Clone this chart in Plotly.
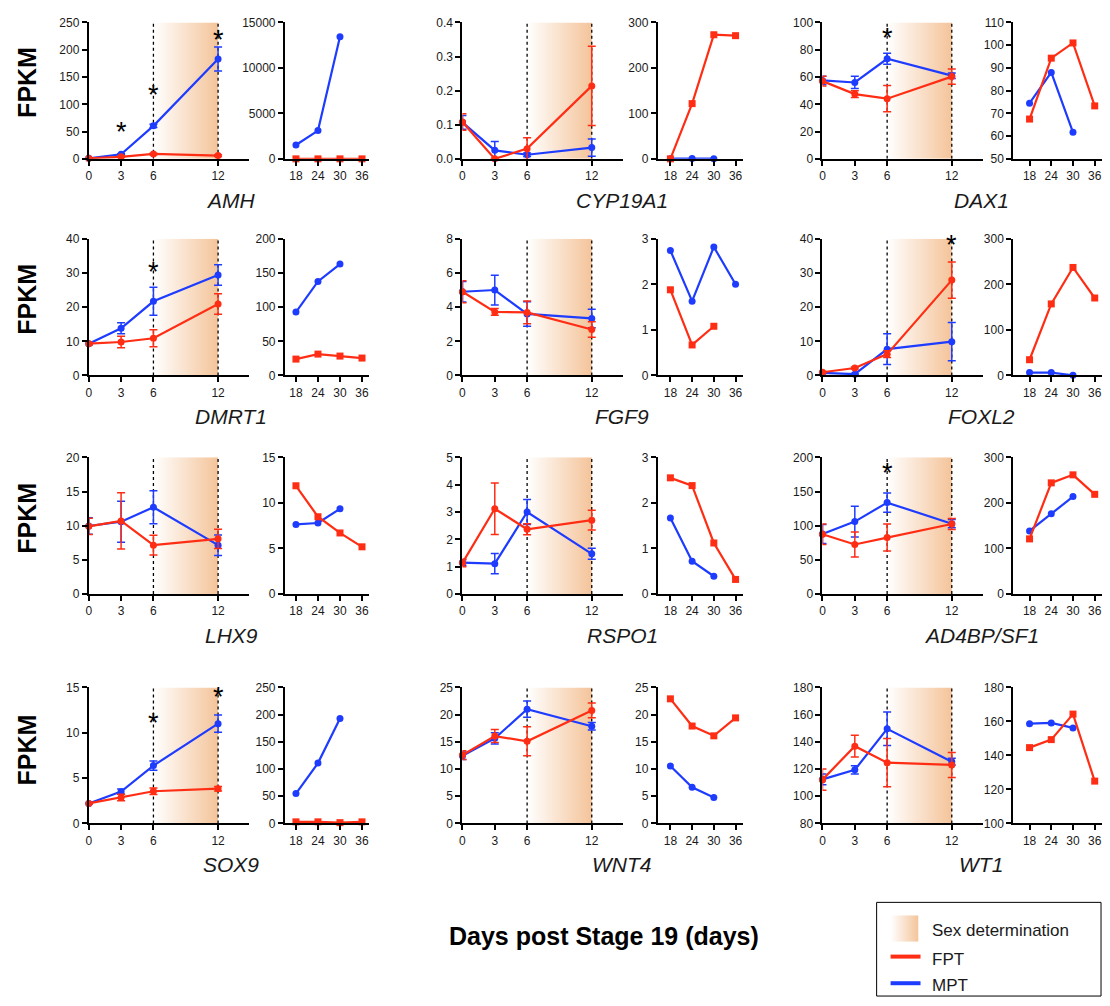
import plotly.graph_objects as go

W, H = 1110, 1006
RED = "#FF2D14"
BLUE = "#1E3CFF"
PEACH = "#F4C49A"
FONT = "Liberation Sans, Arial, sans-serif"

DAYS_EARLY = [0, 3, 6, 12]
DAYS_LATE = [18, 24, 30, 36]

GENES = ["AMH", "CYP19A1", "DAX1", "DMRT1", "FGF9", "FOXL2",
         "LHX9", "RSPO1", "AD4BP/SF1", "SOX9", "WNT4", "WT1"]

# ---- data (FPKM) ----
AMH_MPT = [1.0, 8.4, 60.5, 183.0]
AMH_MPT_SD = [0.5, 1.0, 3.0, 22.0]
AMH_FPT = [1.0, 3.8, 9.0, 6.0]
AMH_FPT_SD = [0.3, 0.8, 1.5, 1.5]
AMH_MPT_LATE = [1520, 3110, 13440, None]
AMH_FPT_LATE = [0, 0, 0, 0]

CYP_MPT = [0.107, 0.025, 0.012, 0.033]
CYP_MPT_SD = [0.02, 0.026, 0.005, 0.025]
CYP_FPT = [0.108, 0.0, 0.03, 0.214]
CYP_FPT_SD = [0.024, 0.002, 0.032, 0.116]
CYP_MPT_LATE = [0.5, 1.0, 0.3, None]
CYP_FPT_LATE = [0, 121.5, 273, 271]

DAX1_MPT = [57.5, 56.0, 73.4, 61.0]
DAX1_MPT_SD = [3.0, 4.5, 4.0, 2.0]
DAX1_FPT = [57.0, 47.5, 44.1, 60.3]
DAX1_FPT_SD = [3.5, 2.5, 9.6, 5.6]
DAX1_MPT_LATE = [74.5, 88.0, 61.7, None]
DAX1_FPT_LATE = [67.5, 94.3, 101.0, 73.3]

DMRT1_MPT = [9.3, 13.8, 21.7, 29.4]
DMRT1_MPT_SD = [0.4, 1.6, 4.1, 3.0]
DMRT1_FPT = [9.3, 9.8, 10.9, 20.9]
DMRT1_FPT_SD = [0.4, 1.7, 2.5, 3.0]
DMRT1_MPT_LATE = [92.8, 137.5, 163.0, None]
DMRT1_FPT_LATE = [24.0, 31.3, 28.4, 25.5]

FGF9_MPT = [4.9, 5.0, 3.6, 3.34]
FGF9_MPT_SD = [0.6, 0.87, 0.72, 0.54]
FGF9_FPT = [4.9, 3.72, 3.69, 2.69]
FGF9_FPT_SD = [0.64, 0.2, 0.67, 0.45]
FGF9_MPT_LATE = [2.74, 1.63, 2.82, 2.0]
FGF9_FPT_LATE = [1.88, 0.67, 1.08, None]

FOXL2_MPT = [0.77, 0.4, 7.7, 9.9]
FOXL2_MPT_SD = [0.2, 0.2, 4.5, 5.6]
FOXL2_FPT = [0.96, 2.2, 6.25, 27.9]
FOXL2_FPT_SD = [0.2, 0.3, 1.0, 5.3]
FOXL2_MPT_LATE = [6.5, 6.5, 0.5, None]
FOXL2_FPT_LATE = [34.6, 157.0, 237.0, 170.0]

LHX9_MPT = [9.95, 10.58, 12.7, 7.15]
LHX9_MPT_SD = [1.2, 3.0, 2.4, 1.5]
LHX9_FPT = [9.9, 10.7, 7.15, 8.07]
LHX9_FPT_SD = [1.2, 4.1, 1.45, 1.4]
LHX9_MPT_LATE = [7.64, 7.79, 9.35, None]
LHX9_FPT_LATE = [11.88, 8.48, 6.7, 5.18]

RSPO1_MPT = [1.15, 1.11, 3.0, 1.47]
RSPO1_MPT_SD = [0.1, 0.37, 0.46, 0.2]
RSPO1_FPT = [1.14, 3.12, 2.37, 2.7]
RSPO1_FPT_SD = [0.14, 0.94, 0.2, 0.36]
RSPO1_MPT_LATE = [1.67, 0.72, 0.39, None]
RSPO1_FPT_LATE = [2.55, 2.38, 1.12, 0.32]

SF1_MPT = [87.9, 106.0, 133.8, 102.9]
SF1_MPT_SD = [14.0, 22.5, 14.0, 6.0]
SF1_FPT = [87.4, 72.5, 82.6, 102.4]
SF1_FPT_SD = [15.0, 18.4, 19.8, 8.0]
SF1_MPT_LATE = [138.4, 176.0, 213.8, None]
SF1_FPT_LATE = [121.0, 244.0, 261.6, 218.8]

SOX9_MPT = [2.21, 3.51, 6.38, 11.0]
SOX9_MPT_SD = [0.1, 0.3, 0.5, 0.95]
SOX9_FPT = [2.21, 2.86, 3.55, 3.84]
SOX9_FPT_SD = [0.1, 0.35, 0.35, 0.25]
SOX9_MPT_LATE = [55.0, 111.0, 193.0, None]
SOX9_FPT_LATE = [3.0, 3.0, 1.5, 3.0]

WNT4_MPT = [12.44, 15.64, 21.0, 17.87]
WNT4_MPT_SD = [0.7, 1.05, 1.5, 0.7]
WNT4_FPT = [12.56, 16.06, 15.1, 20.77]
WNT4_FPT_SD = [0.8, 1.2, 2.65, 1.35]
WNT4_MPT_LATE = [10.57, 6.64, 4.77, None]
WNT4_FPT_LATE = [22.9, 17.9, 16.1, 19.4]

WT1_MPT = [112.4, 119.4, 149.6, 125.4]
WT1_MPT_SD = [4.0, 3.0, 12.3, 2.5]
WT1_FPT = [112.2, 136.8, 124.7, 123.0]
WT1_FPT_SD = [7.8, 8.0, 17.8, 9.2]
WT1_MPT_LATE = [158.7, 159.1, 156.2, None]
WT1_FPT_LATE = [144.6, 149.3, 164.3, 124.9]

# significance marks: (gene index, day, height of asterisk)
STARS = [(0, 3, 54), (0, 6, 123), (0, 12, 223), (2, 6, 91), (3, 6, 31),
         (5, 12, 39), (8, 6, 181), (9, 6, 11.4), (9, 12, 14.3)]

# axis ranges / tick steps (left, right)
Y_LEFT = [(0, 250, 50), (0, 0.4, 0.1), (0, 100, 20), (0, 40, 10), (0, 8, 2), (0, 40, 10),
          (0, 20, 5), (0, 5, 1), (0, 200, 50), (0, 15, 5), (0, 25, 5), (80, 180, 20)]
Y_RIGHT = [(0, 15000, 5000), (0, 300, 100), (50, 110, 10), (0, 200, 50), (0, 3, 1), (0, 300, 100),
           (0, 15, 5), (0, 3, 1), (0, 300, 100), (0, 250, 50), (0, 25, 5), (100, 180, 20)]

SERIES = [
    (AMH_MPT, AMH_MPT_SD, AMH_FPT, AMH_FPT_SD, AMH_MPT_LATE, AMH_FPT_LATE),
    (CYP_MPT, CYP_MPT_SD, CYP_FPT, CYP_FPT_SD, CYP_MPT_LATE, CYP_FPT_LATE),
    (DAX1_MPT, DAX1_MPT_SD, DAX1_FPT, DAX1_FPT_SD, DAX1_MPT_LATE, DAX1_FPT_LATE),
    (DMRT1_MPT, DMRT1_MPT_SD, DMRT1_FPT, DMRT1_FPT_SD, DMRT1_MPT_LATE, DMRT1_FPT_LATE),
    (FGF9_MPT, FGF9_MPT_SD, FGF9_FPT, FGF9_FPT_SD, FGF9_MPT_LATE, FGF9_FPT_LATE),
    (FOXL2_MPT, FOXL2_MPT_SD, FOXL2_FPT, FOXL2_FPT_SD, FOXL2_MPT_LATE, FOXL2_FPT_LATE),
    (LHX9_MPT, LHX9_MPT_SD, LHX9_FPT, LHX9_FPT_SD, LHX9_MPT_LATE, LHX9_FPT_LATE),
    (RSPO1_MPT, RSPO1_MPT_SD, RSPO1_FPT, RSPO1_FPT_SD, RSPO1_MPT_LATE, RSPO1_FPT_LATE),
    (SF1_MPT, SF1_MPT_SD, SF1_FPT, SF1_FPT_SD, SF1_MPT_LATE, SF1_FPT_LATE),
    (SOX9_MPT, SOX9_MPT_SD, SOX9_FPT, SOX9_FPT_SD, SOX9_MPT_LATE, SOX9_FPT_LATE),
    (WNT4_MPT, WNT4_MPT_SD, WNT4_FPT, WNT4_FPT_SD, WNT4_MPT_LATE, WNT4_FPT_LATE),
    (WT1_MPT, WT1_MPT_SD, WT1_FPT, WT1_FPT_SD, WT1_MPT_LATE, WT1_FPT_LATE),
]

# ---- layout geometry (pixels) ----
ROWS = [(15.7, 154), (235, 373.7), (456.7, 595.3), (690, 828)]
LEFT_X0 = [86, 460.7, 821.7]
LEFT_W = 161
LEFT_RANGE = [0, 14.9]
RIGHT = [(282.7, 15, 3.68), (656.5, 14.5, 3.63), (1013, 13.5, 3.63)]
RIGHT_END = 38
LABEL_X = [229, 621, 981]
LABEL_DY = 42
FPKM_Y = [76, 296, 518, 753]


def fx(p):
    return p / W


def fy(p):
    return 1 - p / H


fig = go.Figure()
layout = {}
annotations = []
shapes = []

axis_common = dict(showline=True, linewidth=2, linecolor="black", ticks="outside",
                   ticklen=5, tickwidth=2, tickcolor="black", showgrid=False,
                   zeroline=False, tickfont=dict(family=FONT, size=12, color="#1a1a1a"),
                   fixedrange=True)


def aname(n, kind):
    return f"{kind}axis" if n == 1 else f"{kind}axis{n}"


def aref(n, kind):
    return kind if n == 1 else f"{kind}{n}"


for i, gene in enumerate(GENES):
    r, c = divmod(i, 3)
    top, bot = ROWS[r]
    ydom = [fy(bot), fy(top)]
    nl, nr = 2 * i + 1, 2 * i + 2
    mpt, mpt_sd, fpt, fpt_sd, mpt_late, fpt_late = SERIES[i]
    ylo, yhi, dt = Y_LEFT[i]
    rlo, rhi, rdt = Y_RIGHT[i]

    # left subplot axes
    layout[aname(nl, "x")] = dict(axis_common, domain=[fx(LEFT_X0[c]), fx(LEFT_X0[c] + LEFT_W)],
                                  range=LEFT_RANGE, tickvals=DAYS_EARLY, anchor=aref(nl, "y"))
    layout[aname(nl, "y")] = dict(axis_common, domain=ydom, range=[ylo, yhi], dtick=dt, tick0=ylo,
                                  anchor=aref(nl, "x"),
                                  tickformat=".1f" if dt < 1 else "d")
    # right subplot axes
    rx0, rlow, scale = RIGHT[c]
    rx1 = rx0 + (RIGHT_END - rlow) * scale
    layout[aname(nr, "x")] = dict(axis_common, domain=[fx(rx0), fx(rx1)],
                                  range=[rlow, RIGHT_END], tickvals=DAYS_LATE, anchor=aref(nr, "y"))
    layout[aname(nr, "y")] = dict(axis_common, domain=ydom, range=[rlo, rhi], dtick=rdt, tick0=rlo,
                                  anchor=aref(nr, "x"), tickformat="d")

    xl, yl = aref(nl, "x"), aref(nl, "y")
    xr, yr = aref(nr, "x"), aref(nr, "y")

    # sex determination shading
    fig.add_trace(go.Scatter(x=[6, 12, 12, 6, 6], y=[ylo, ylo, yhi, yhi, ylo], xaxis=xl, yaxis=yl,
                             mode="none", fill="toself", showlegend=False, hoverinfo="skip",
                             fillgradient=dict(type="horizontal",
                                               colorscale=[[0, "rgba(255,255,255,1)"], [1, PEACH]])))
    for d in (6, 12):
        fig.add_trace(go.Scatter(x=[d, d], y=[ylo, yhi], xaxis=xl, yaxis=yl, mode="lines",
                                 line=dict(color="black", width=1.3, dash="dot"),
                                 showlegend=False, hoverinfo="skip"))

    for vals, sd, col in ((mpt, mpt_sd, BLUE), (fpt, fpt_sd, RED)):
        fig.add_trace(go.Scatter(x=DAYS_EARLY, y=vals, xaxis=xl, yaxis=yl, mode="lines+markers",
                                 line=dict(color=col, width=2.2),
                                 marker=dict(color=col, size=7, symbol="circle"),
                                 error_y=dict(type="data", array=sd, color=col, thickness=1.5, width=4),
                                 cliponaxis=False, showlegend=False))

    fig.add_trace(go.Scatter(x=DAYS_LATE, y=mpt_late, xaxis=xr, yaxis=yr, mode="lines+markers",
                             line=dict(color=BLUE, width=2.2),
                             marker=dict(color=BLUE, size=7, symbol="circle"),
                             cliponaxis=False, showlegend=False))
    fig.add_trace(go.Scatter(x=DAYS_LATE, y=fpt_late, xaxis=xr, yaxis=yr, mode="lines+markers",
                             line=dict(color=RED, width=2.2),
                             marker=dict(color=RED, size=7, symbol="square"),
                             cliponaxis=False, showlegend=False))

    annotations.append(dict(text=f"<i>{gene}</i>", x=fx(LABEL_X[c]), y=fy(bot + LABEL_DY),
                            xref="paper", yref="paper", showarrow=False, xanchor="center",
                            yanchor="middle", font=dict(family=FONT, size=21, color="#1a1a1a")))

for gi, day, hgt in STARS:
    n = 2 * gi + 1
    annotations.append(dict(text="*", x=day, y=hgt, xref=aref(n, "x"), yref=aref(n, "y"),
                            showarrow=False, xanchor="center", yanchor="middle", yshift=-3,
                            font=dict(family=FONT, size=27, color="black")))

for yy in FPKM_Y:
    annotations.append(dict(text="<b>FPKM</b>", x=fx(24), y=fy(yy), xref="paper", yref="paper",
                            showarrow=False, textangle=-90, xanchor="center", yanchor="middle",
                            font=dict(family=FONT, size=25, color="black")))

annotations.append(dict(text="<b>Days post Stage 19 (days)</b>", x=fx(603), y=fy(942),
                        xref="paper", yref="paper", showarrow=False, xanchor="center",
                        yanchor="middle", font=dict(family=FONT, size=25, color="black")))

# ---- legend ----
shapes.append(dict(type="rect", xref="paper", yref="paper", x0=fx(876), x1=fx(1101),
                   y0=fy(1003), y1=fy(908), line=dict(color="black", width=1), fillcolor="white",
                   layer="below"))
LEG = 25
layout[aname(LEG, "x")] = dict(domain=[fx(890), fx(918)], range=[0, 1], visible=False,
                               anchor=aref(LEG, "y"), fixedrange=True)
layout[aname(LEG, "y")] = dict(domain=[fy(948), fy(921)], range=[0, 1], visible=False,
                               anchor=aref(LEG, "x"), fixedrange=True)
fig.add_trace(go.Scatter(x=[0, 1, 1, 0, 0], y=[0, 0, 1, 1, 0], xaxis=aref(LEG, "x"),
                         yaxis=aref(LEG, "y"), mode="none", fill="toself", showlegend=False,
                         hoverinfo="skip",
                         fillgradient=dict(type="horizontal",
                                           colorscale=[[0, "rgba(255,255,255,1)"], [1, PEACH]])))
shapes.append(dict(type="line", xref="paper", yref="paper", x0=fx(890), x1=fx(920),
                   y0=fy(963), y1=fy(963), line=dict(color=RED, width=4)))
shapes.append(dict(type="line", xref="paper", yref="paper", x0=fx(890), x1=fx(920),
                   y0=fy(990), y1=fy(990), line=dict(color=BLUE, width=4)))
for txt, yy in (("Sex determination", 937), ("FPT", 966), ("MPT", 992)):
    annotations.append(dict(text=txt, x=fx(930), y=fy(yy), xref="paper", yref="paper",
                            showarrow=False, xanchor="left", yanchor="middle",
                            font=dict(family=FONT, size=17, color="#1a1a1a")))

fig.update_layout(**layout)
fig.update_layout(width=W, height=H, margin=dict(l=0, r=0, t=0, b=0),
                  paper_bgcolor="white", plot_bgcolor="rgba(0,0,0,0)",
                  annotations=annotations, shapes=shapes, showlegend=False,
                  font=dict(family=FONT))

fig.write_html("out.html", config={"displayModeBar": False})
